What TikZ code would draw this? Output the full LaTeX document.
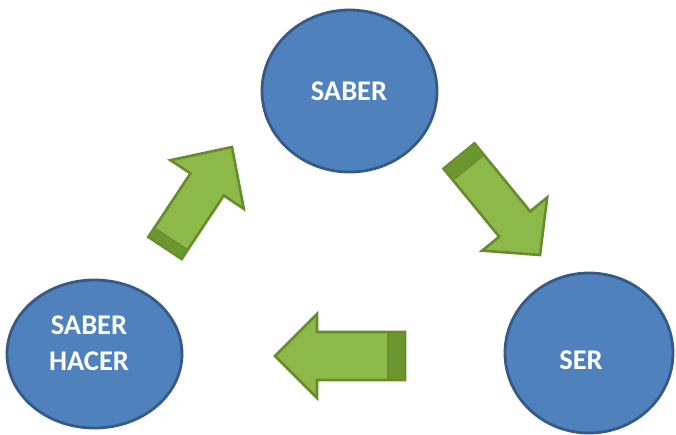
\documentclass[tikz,border=0pt]{standalone}
\usepackage{fontspec}
\setmainfont{Carlito}
\usetikzlibrary{shapes.geometric,calc}
\definecolor{cfill}{HTML}{4F81BD}
\definecolor{cline}{HTML}{365A87}
\definecolor{afill}{HTML}{8DB94A}
\definecolor{aline}{HTML}{678C2C}
\definecolor{adark}{HTML}{6C962E}
\tikzset{
  bubble/.style={ellipse,draw=cline,fill=cfill,line width=2.8pt,inner sep=0pt},
  lbl/.style={text=white,font=\bfseries\fontsize{28.5}{36}\selectfont,align=center,inner sep=0pt},
  arrbody/.style={fill=afill,draw=aline,line width=2.6pt,line join=miter},
  arrface/.style={fill=adark,draw=aline,line width=1.2pt,line join=miter}
}
\newcommand\blockarrow[6]{%
  \path coordinate (hb) at ($(#2)!#5!(#1)$)
        coordinate (db) at ($(#1)!#6!(#2)$);
  \draw[arrbody] ($(#1)!#3!90:(#2)$) -- ($(hb)!#3!90:(#2)$) -- ($(hb)!#4!90:(#2)$)
    -- (#2) -- ($(hb)!#4!-90:(#2)$) -- ($(hb)!#3!-90:(#2)$) -- ($(#1)!#3!-90:(#2)$) -- cycle;
  \draw[arrface] ($(#1)!#3!90:(#2)$) -- ($(db)!#3!90:(#2)$) -- ($(db)!#3!-90:(#2)$) -- ($(#1)!#3!-90:(#2)$) -- cycle;
}
\begin{document}
\begin{tikzpicture}[x=1pt,y=-1pt]
\useasboundingbox (0,0) rectangle (676,434);
\fill[white] (0,0) rectangle (676,434);
\node[bubble,minimum width=175pt,minimum height=162pt] (saber) at (349.5,91) {};
\node[bubble,minimum width=175pt,minimum height=148pt] (hacer) at (94.5,354) {};
\node[bubble,minimum width=168pt,minimum height=160pt] (ser) at (589,353) {};
\node[lbl] (tsaber) at (349,91) {SABER};
\node[lbl] (thacer) at (89,343) {SABER\\HACER};
\node[lbl] (tser) at (581,360) {SER};
\coordinate (a1t) at (165,248); \coordinate (a1h) at (232,147);
\coordinate (a2t) at (459,156); \coordinate (a2h) at (540,255);
\coordinate (a3t) at (405,356); \coordinate (a3h) at (275,356);
\blockarrow{a1t}{a1h}{20pt}{44pt}{45pt}{11pt}
\blockarrow{a2t}{a2h}{20pt}{42pt}{40pt}{15pt}
\blockarrow{a3t}{a3h}{24pt}{42pt}{42pt}{17pt}
\end{tikzpicture}
\end{document}
